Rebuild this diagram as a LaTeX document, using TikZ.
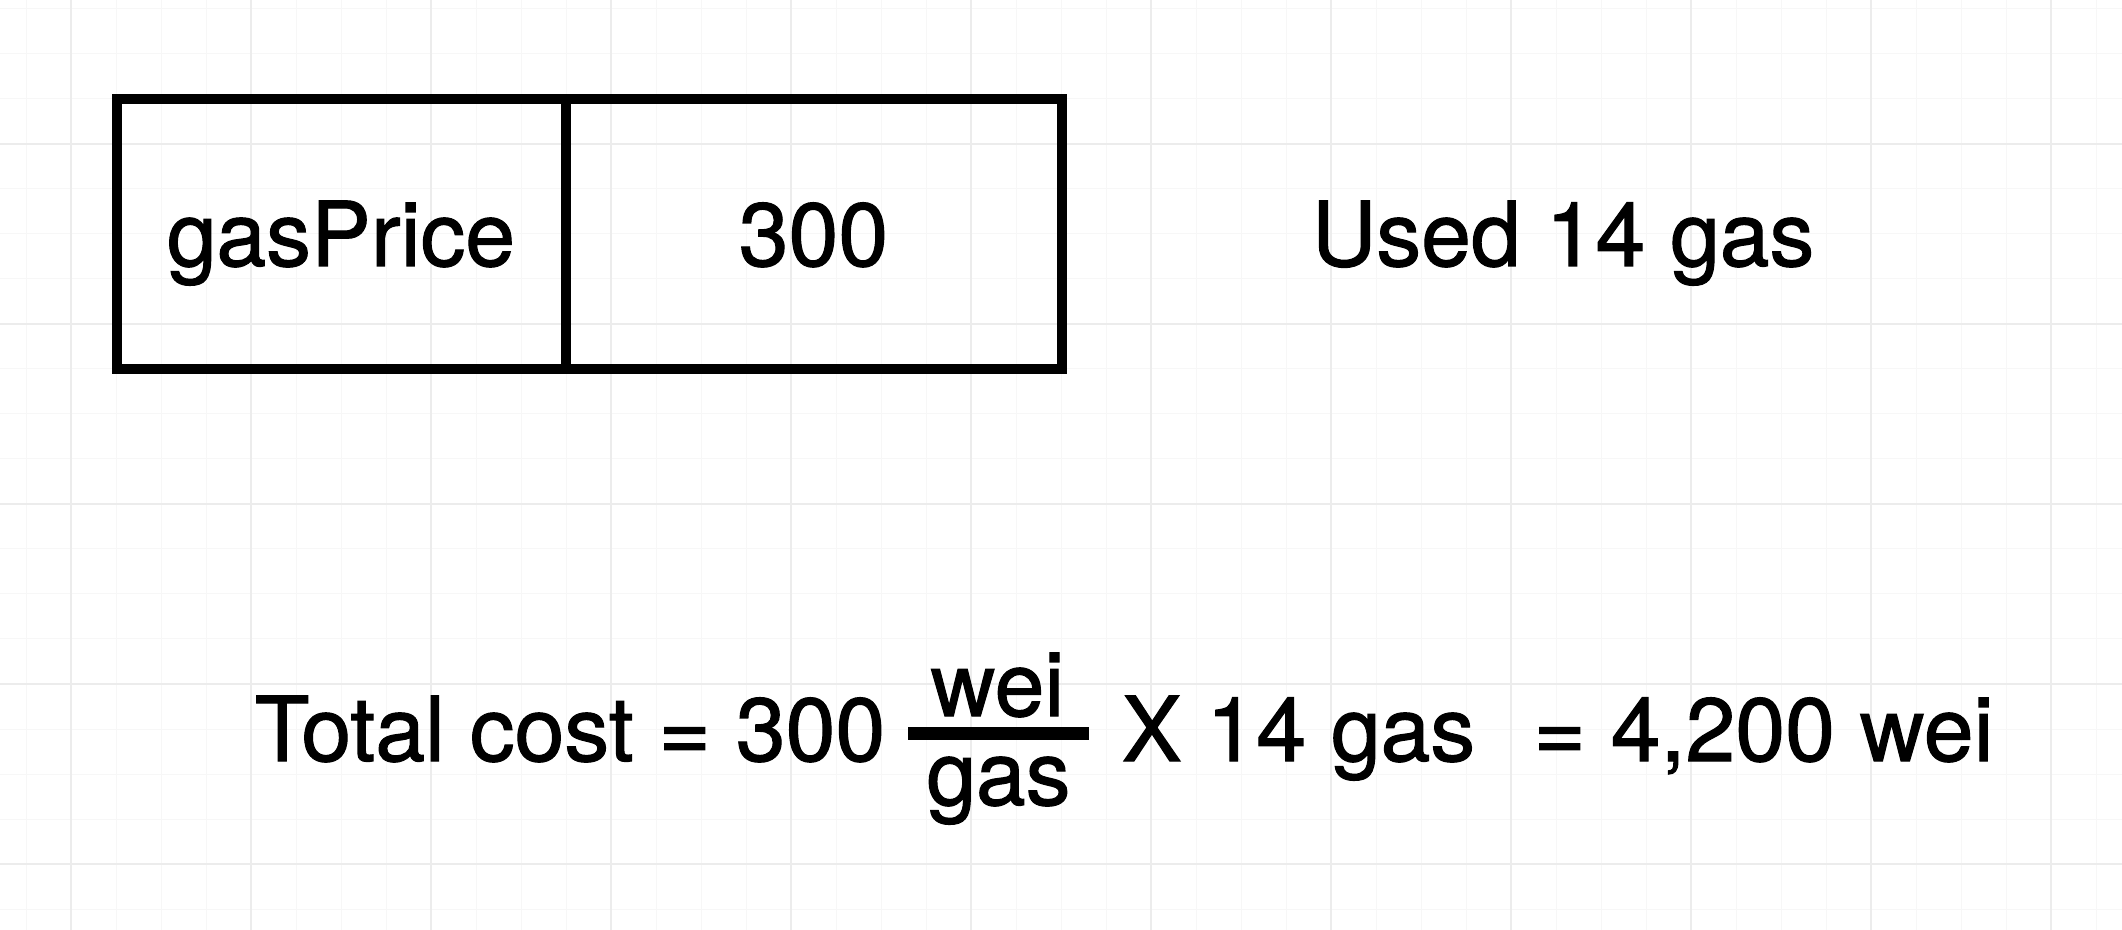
\documentclass[tikz,border=0pt]{standalone}
\usepackage{fontspec}
\setmainfont{TeX Gyre Heros}[FakeBold=1.2]
\definecolor{minorgrid}{RGB}{247,247,247}
\definecolor{majorgrid}{RGB}{236,236,236}
\begin{document}
\begin{tikzpicture}[x=0.5pt,y=-0.5pt,
  txt/.style={inner sep=0pt, font=\fontsize{44.8}{54}\selectfont, anchor=base},
  cell/.style={draw=black, line width=5pt, inner sep=0pt, minimum height=135pt},
  minorline/.style={minorgrid, line width=0.5pt},
  majorline/.style={majorgrid, line width=0.9pt},
  fracbar/.style={fill=black, inner sep=0pt, minimum width=90.5pt, minimum height=6.5pt}
  ]
\fill[white] (0,0) rectangle (2122,930);
\useasboundingbox (0,0) rectangle (2122,930);
% grid
\foreach \x in {26,71,...,2122} \draw[minorline] (\x,0) -- (\x,930);
\foreach \y in {9,54,...,930} \draw[minorline] (0,\y) -- (2122,\y);
\foreach \x in {71,251,...,2122} \draw[majorline] (\x,0) -- (\x,930);
\foreach \y in {144,324,...,930} \draw[majorline] (0,\y) -- (2122,\y);
% table
\node[cell, minimum width=224.5pt] (cellA) at (341.5,234) {};
\node[cell, minimum width=248pt] (cellB) at (814,234) {};
\node[txt] (gp) at (341,266) {gasPrice};
\node[txt] (val) at (813.5,266) {300};
\node[txt] (used) at (1563,266) {Used 14 gas};
% formula
\node[txt] (total) at (570,761) {Total cost = 300};
\node[fracbar] (bar) at (998.5,733.5) {};
\node[txt] (num) at (997.5,716) {wei};
\node[txt] (den) at (998.5,805) {gas};
\node[txt] (times) at (1298.5,761) {X 14 gas};
\node[txt] (result) at (1763.5,761) {= 4,200 wei};
\end{tikzpicture}
\end{document}
